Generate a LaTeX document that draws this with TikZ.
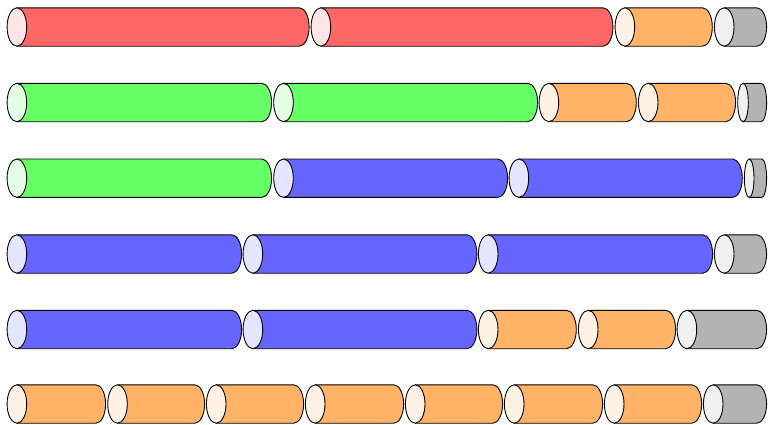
\documentclass[tikz,border=0pt]{standalone}
\definecolor{redB}{HTML}{FF6666}\definecolor{redE}{HTML}{FFE5E5}
\definecolor{grnB}{HTML}{66FF66}\definecolor{grnE}{HTML}{E5FFE5}
\definecolor{bluB}{HTML}{6666FF}\definecolor{bluE}{HTML}{E5E5FF}
\definecolor{orgB}{HTML}{FFB366}\definecolor{orgE}{HTML}{FFF2E5}
\definecolor{gryB}{HTML}{B3B3B3}\definecolor{gryE}{HTML}{F0F0F0}
\tikzset{cylline/.style={draw=black,line width=0.9pt}}
% L R yc rx body end
\newcommand\mycyl[6]{%
  \pgfmathsetmacro\cxa{#1+0.4+#4}%
  \pgfmathsetmacro\cxb{#2-0.4-#4}%
  \filldraw[cylline,fill=#5] (\cxa,#3+19.2) -- (\cxb,#3+19.2)
    arc[start angle=90,end angle=-90,x radius=#4,y radius=19.2] -- (\cxa,#3-19.2) -- cycle;
  \filldraw[cylline,fill=#6] (\cxa,#3) ellipse[x radius=#4,y radius=19.2];
}
\begin{document}
\begin{tikzpicture}[x=1pt,y=1pt]
\useasboundingbox (0,0) rectangle (768,-424);
% row 1
\mycyl{6.7}{309.5}{-27}{9.8}{redB}{redE}
\mycyl{310.7}{613.3}{-27}{9.8}{redB}{redE}
\mycyl{614.7}{712.7}{-27}{9.8}{orgB}{orgE}
\mycyl{714}{767}{-27}{9.8}{gryB}{gryE}
% row 2
\mycyl{6.7}{272}{-102.5}{9.8}{grnB}{grnE}
\mycyl{273.3}{538}{-102.5}{9.8}{grnB}{grnE}
\mycyl{538.7}{636.7}{-102.5}{9.8}{orgB}{orgE}
\mycyl{638}{736}{-102.5}{9.8}{orgB}{orgE}
\mycyl{737.3}{767}{-102.5}{5.3}{gryB}{gryE}
% row 3
\mycyl{6.7}{272}{-178.2}{9.8}{grnB}{grnE}
\mycyl{273.3}{508}{-178.2}{9.8}{bluB}{bluE}
\mycyl{508.7}{742.7}{-178.2}{9.8}{bluB}{bluE}
\mycyl{744}{767}{-178.2}{4.8}{gryB}{gryE}
% row 4
\mycyl{6.7}{242}{-254}{9.8}{bluB}{bluE}
\mycyl{242.7}{477.3}{-254}{9.8}{bluB}{bluE}
\mycyl{478}{713}{-254}{9.8}{bluB}{bluE}
\mycyl{714}{767}{-254}{9.8}{gryB}{gryE}
% row 5
\mycyl{6.7}{242}{-329.5}{9.8}{bluB}{bluE}
\mycyl{242.7}{477.3}{-329.5}{9.8}{bluB}{bluE}
\mycyl{478}{576.7}{-329.5}{9.8}{orgB}{orgE}
\mycyl{578}{676}{-329.5}{9.8}{orgB}{orgE}
\mycyl{676.7}{767}{-329.5}{9.8}{gryB}{gryE}
% row 6
\mycyl{6.7}{106}{-404}{9.8}{orgB}{orgE}
\mycyl{107.3}{205}{-404}{9.8}{orgB}{orgE}
\mycyl{206}{304}{-404}{9.8}{orgB}{orgE}
\mycyl{305}{404}{-404}{9.8}{orgB}{orgE}
\mycyl{405}{503}{-404}{9.8}{orgB}{orgE}
\mycyl{504}{603}{-404}{9.8}{orgB}{orgE}
\mycyl{604}{702}{-404}{9.8}{orgB}{orgE}
\mycyl{703}{767}{-404}{9.8}{gryB}{gryE}
\end{tikzpicture}
\end{document}
